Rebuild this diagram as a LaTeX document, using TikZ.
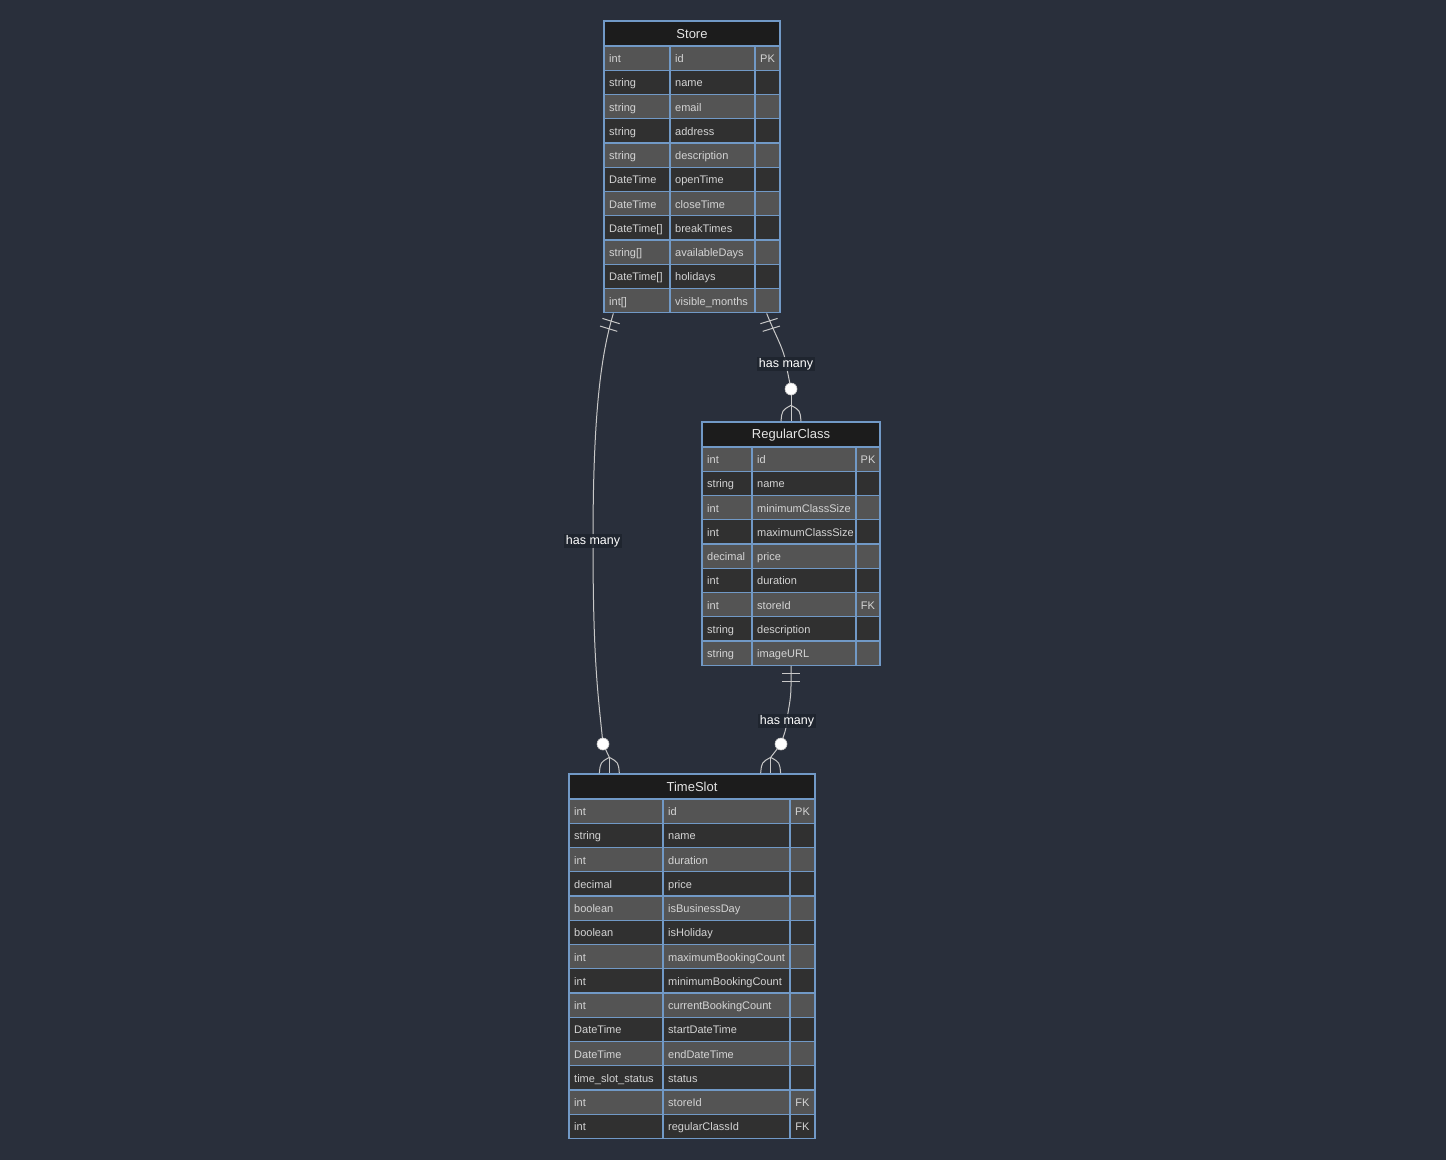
\documentclass[tikz,border=0pt]{standalone}
\usepackage{fontspec}
\setmainfont{Liberation Sans}
\usetikzlibrary{calc,fit}
\definecolor{bgc}{HTML}{292F3B}
\definecolor{hdrc}{HTML}{1C1C1C}
\definecolor{rowA}{HTML}{545454}
\definecolor{rowB}{HTML}{303030}
\definecolor{bordc}{HTML}{7199C6}
\definecolor{txtc}{HTML}{D4D4D4}
\definecolor{relc}{HTML}{C8C8C8}
\definecolor{lblbg}{HTML}{1E242E}
\tikzset{
 bord/.style={draw=bordc, line width=1.3pt},
 celltext/.style={text=txtc, font=\fontsize{11}{13}\selectfont, inner sep=0pt},
 hdrtext/.style={text=white!90!black, font=\fontsize{13}{15}\selectfont, inner sep=0pt},
 rel/.style={draw=relc, line width=1pt},
 relabel/.style={fill=lblbg, fill opacity=0.9, text opacity=1, text=white, font=\fontsize{12.5}{14}\selectfont, inner sep=1.5pt},
 zerodot/.style={circle, fill=white, draw=relc, line width=0.6pt, minimum size=12pt, inner sep=0pt},
}
% #1 name, #2 left, #3 col1, #4 col2, #5 right, #6 top, #7 rows, #8 title, #9 row list
\newcommand\ertable[9]{%
 \fill[hdrc] (#2,#6) rectangle (#5,{#6+25});
 \node[hdrtext] (#1-title) at ({(#2+#5)/2},{#6+13}) {#8};
 \foreach \ty/\nm/\ky [count=\i] in {#9} {
  \pgfmathsetmacro\ya{#6+25+(\i-1)*24.25}
  \pgfmathsetmacro\yb{\ya+24.25}
  \pgfmathsetmacro\ym{\ya+12.125}
  \ifodd\i\relax \def\rc{rowA}\else\def\rc{rowB}\fi
  \fill[\rc] (#2,\ya) rectangle (#5,\yb);
  \draw[bord] (#2,\ya) rectangle (#3,\yb) (#3,\ya) rectangle (#4,\yb) (#4,\ya) rectangle (#5,\yb);
  \node[celltext, anchor=base west] (#1-t\i) at ({#2+5},{\ym+4.5}) {\ty};
  \node[celltext, anchor=base west] (#1-n\i) at ({#3+5},{\ym+4.5}) {\nm};
  \node[celltext, anchor=base] (#1-k\i) at ({(#4+#5)/2},{\ym+4.5}) {\ky};
 }
 \coordinate (#1-nw) at (#2,#6);
 \coordinate (#1-se) at (#5,{#6+25+#7*24.25});
 \node[fit=(#1-nw)(#1-se), inner sep=0pt, bord] (#1) {};
}
\newcommand\crowfoot[1]{%
 \draw[rel] ($(#1)+(0,-16)$) -- (#1);
 \draw[rel] ($(#1)+(0,-16)$) .. controls ($(#1)+(-9,-11)$) .. ($(#1)+(-10,0)$);
 \draw[rel] ($(#1)+(0,-16)$) .. controls ($(#1)+(9,-11)$) .. ($(#1)+(10,0)$);
}
\newcommand\onebars[2]{%
 \begin{scope}[shift={(#1)}, rotate=#2]
  \draw[rel] (-9,8) -- (9,8) (-9,16) -- (9,16);
 \end{scope}
}
\begin{document}
\begin{tikzpicture}[x=1pt,y=-1pt]
\useasboundingbox[fill=bgc] (0,0) rectangle (1446,1160);

\ertable{store}{604}{670}{755}{780}{21}{11}{Store}{%
 int/id/PK, string/name/{}, string/email/{}, string/address/{}, string/description/{},
 DateTime/openTime/{}, DateTime/closeTime/{}, DateTime[]/breakTimes/{}, string[]/availableDays/{},
 DateTime[]/holidays/{}, int[]/visible\_months/{}}

\ertable{regularclass}{702}{752}{856}{880}{422}{9}{RegularClass}{%
 int/id/PK, string/name/{}, int/minimumClassSize/{}, int/maximumClassSize/{}, decimal/price/{},
 int/duration/{}, int/storeId/FK, string/description/{}, string/imageURL/{}}

\ertable{timeslot}{569}{663}{790}{815}{774}{14}{TimeSlot}{%
 int/id/PK, string/name/{}, int/duration/{}, decimal/price/{}, boolean/isBusinessDay/{},
 boolean/isHoliday/{}, int/maximumBookingCount/{}, int/minimumBookingCount/{},
 int/currentBookingCount/{}, DateTime/startDateTime/{}, DateTime/endDateTime/{},
 time\_slot\_status/status/{}, int/storeId/FK, int/regularClassId/FK}

% endpoints
\coordinate (a0) at ($(store.south west)+(10,0)$);
\coordinate (a1) at ($(timeslot.north west)+(41,0)$);
\coordinate (b0) at ($(store.south east)+(-14,0)$);
\coordinate (b1) at (regularclass.north);
\coordinate (c0) at (regularclass.south);
\coordinate (c1) at ($(timeslot.north east)+(-45,0)$);
\coordinate (lapos) at (593,541);
\coordinate (lbpos) at (786,364);
\coordinate (lcpos) at (787,721);
\coordinate (capos) at (603,744);
\coordinate (cbpos) at (791,389);
\coordinate (ccpos) at (781,744);

% Store -> TimeSlot
\draw[rel] (a0) .. controls +(-12,40) and +(0,-130) .. (lapos)
  .. controls +(0,120) and +(-5,-50) .. (capos);
\draw[rel] (capos) -- ($(a1)+(0,-16)$);
\onebars{a0}{-17}
\crowfoot{a1}

% Store -> RegularClass
\draw[rel] (b0) .. controls +(10,25) and +(-2,-15) .. (lbpos) -- (cbpos);
\draw[rel] (cbpos) -- ($(b1)+(0,-16)$);
\onebars{b0}{17}
\crowfoot{b1}

% RegularClass -> TimeSlot
\draw[rel] (c0) -- ++(0,20) .. controls +(0,15) and +(1,-12) .. (lcpos)
  .. controls +(-1,10) and +(3,-10) .. (ccpos);
\draw[rel] (ccpos) -- ($(c1)+(0,-16)$);
\onebars{c0}{0}
\crowfoot{c1}

% circles and labels
\node[zerodot] (ca) at (capos) {};
\node[zerodot] (cb) at (cbpos) {};
\node[zerodot] (cc) at (ccpos) {};
\node[relabel] (la) at (lapos) {has many};
\node[relabel] (lb) at (lbpos) {has many};
\node[relabel] (lc) at (lcpos) {has many};
\end{tikzpicture}
\end{document}
